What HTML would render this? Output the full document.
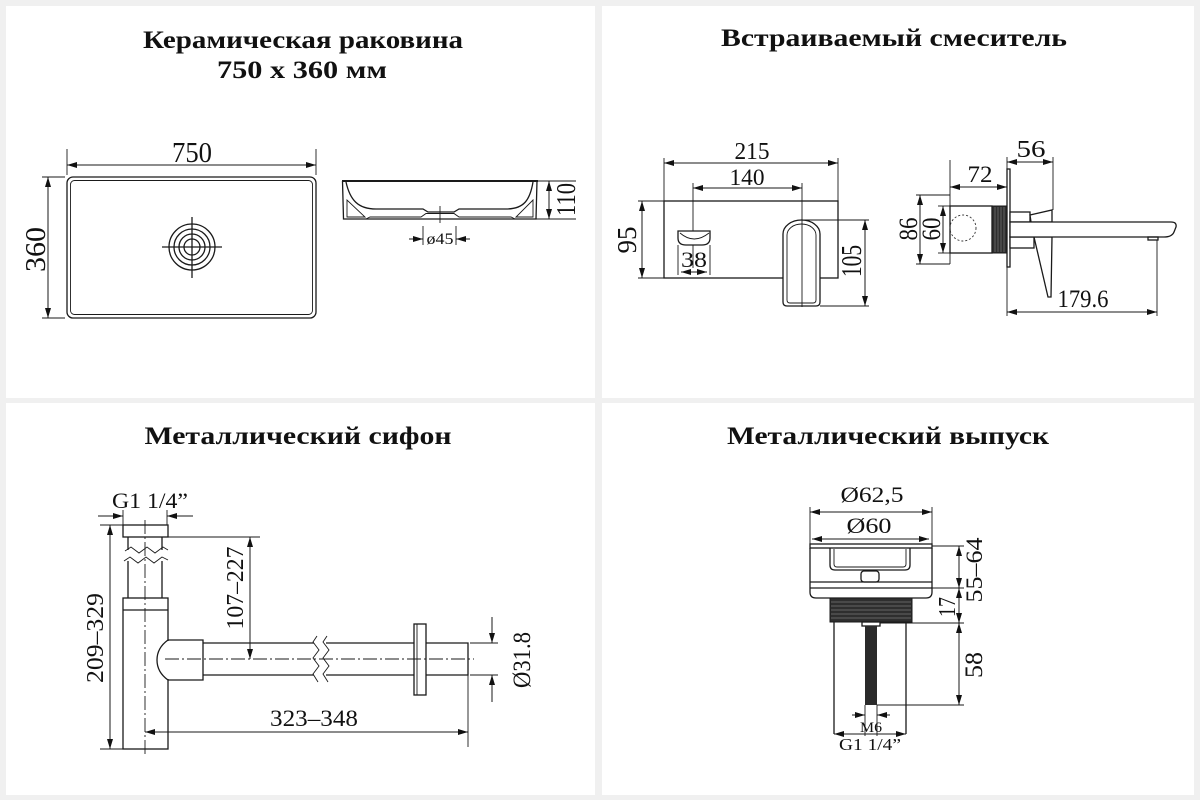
<!DOCTYPE html>
<html><head><meta charset="utf-8"><style>
html,body{margin:0;padding:0;background:#f0f0f0;}
svg{display:block;}
.t{font-family:"Liberation Serif","DejaVu Serif",serif;fill:#111;}
.h{font-family:"Liberation Serif","DejaVu Serif",serif;font-weight:bold;fill:#111;font-size:25px;}
.l{stroke:#1a1a1a;stroke-width:1.3;fill:none;}
.w{stroke:#1a1a1a;stroke-width:1.3;fill:#fff;}
.e{stroke:#1a1a1a;stroke-width:0.9;fill:none;}
.d{stroke:#1a1a1a;stroke-width:1;fill:none;marker-start:url(#ar);marker-end:url(#ar);}
.d1{stroke:#1a1a1a;stroke-width:1;fill:none;marker-end:url(#ar);}
.c{stroke:#1a1a1a;stroke-width:0.9;fill:none;stroke-dasharray:14 3 2 3;}
</style></head><body>
<svg width="1200" height="800" viewBox="0 0 1200 800" xmlns="http://www.w3.org/2000/svg">
<defs>
<marker id="ar" viewBox="0 0 10 6" refX="10" refY="3" markerWidth="10" markerHeight="6" markerUnits="userSpaceOnUse" orient="auto-start-reverse"><path d="M0,0L10,3L0,6z" fill="#111"/></marker>
</defs>
<rect x="0" y="0" width="1200" height="800" fill="#f0f0f0"/>
<rect x="6" y="6" width="589" height="392" fill="#fff"/>
<rect x="602" y="6" width="592" height="392" fill="#fff"/>
<rect x="6" y="403" width="589" height="392" fill="#fff"/>
<rect x="602" y="403" width="592" height="392" fill="#fff"/>

<!-- Titles -->
<text class="h" x="303" y="48" text-anchor="middle" textLength="320" lengthAdjust="spacingAndGlyphs">Керамическая раковина</text>
<text class="h" x="302" y="78" text-anchor="middle" textLength="170" lengthAdjust="spacingAndGlyphs">750 x 360 мм</text>
<text class="h" x="894" y="46" text-anchor="middle" textLength="346" lengthAdjust="spacingAndGlyphs">Встраиваемый смеситель</text>
<text class="h" x="298" y="444" text-anchor="middle" textLength="307" lengthAdjust="spacingAndGlyphs">Металлический сифон</text>
<text class="h" x="888" y="444" text-anchor="middle" textLength="322" lengthAdjust="spacingAndGlyphs">Металлический выпуск</text>

<!-- ===== Panel 1: sink ===== -->
<line class="e" x1="67" y1="149" x2="67" y2="175"/>
<line class="e" x1="316" y1="149" x2="316" y2="175"/>
<line class="d" x1="67" y1="165" x2="316" y2="165"/>
<text class="t" x="192" y="162" font-size="28" text-anchor="middle" textLength="40" lengthAdjust="spacingAndGlyphs">750</text>
<rect class="l" x="67" y="177" width="249" height="141" rx="6" stroke-width="1.6"/>
<rect class="e" x="70.5" y="180.5" width="242" height="134" rx="4"/>
<line class="e" x1="42" y1="177" x2="65" y2="177"/>
<line class="e" x1="42" y1="318" x2="65" y2="318"/>
<line class="d" x1="48" y1="177" x2="48" y2="318"/>
<text class="t" transform="translate(45,249.5) rotate(-90)" font-size="29" text-anchor="middle" textLength="45" lengthAdjust="spacingAndGlyphs">360</text>
<!-- drain -->
<circle class="l" cx="192" cy="247" r="23"/>
<circle class="l" cx="192" cy="247" r="18"/>
<circle class="l" cx="192" cy="247" r="13"/>
<circle class="l" cx="192" cy="247" r="8"/>
<line class="l" x1="162" y1="247" x2="222" y2="247"/>
<line class="l" x1="192" y1="217" x2="192" y2="278"/>
<!-- side view -->
<path class="l" d="M342.5,181 L343.5,219 L536,219 L537,181"/>
<line x1="342" y1="181" x2="538" y2="181" stroke="#1a1a1a" stroke-width="2"/>
<path class="l" d="M346,182 C350,200 358,209 376,209 L423,209 L428,212 L454,212 L459,209 L506,209 C524,209 530,200 533,182"/>
<path class="e" d="M366,219 L370,217 L421,217 L426,213.5 L454,213.5 L459,217 L511,217 L515,219"/>
<path class="e" d="M347,200 L347,217 L365,217 Z"/>
<path class="e" d="M533,200 L533,217 L516,217 Z"/>
<line class="e" x1="440" y1="206" x2="440" y2="223"/>
<line class="e" x1="537" y1="181" x2="576" y2="181"/>
<line class="e" x1="536" y1="219" x2="576" y2="219"/>
<line class="d" x1="549" y1="181" x2="549" y2="219"/>
<text class="t" transform="translate(575,199.5) rotate(-90)" font-size="27" text-anchor="middle" textLength="33" lengthAdjust="spacingAndGlyphs">110</text>
<line class="e" x1="423" y1="226" x2="423" y2="245"/>
<line class="e" x1="456" y1="226" x2="456" y2="245"/>
<line class="d1" x1="409" y1="239" x2="423" y2="239"/>
<line class="d1" x1="470" y1="239" x2="456" y2="239"/>
<text class="t" x="440" y="244" font-size="16" text-anchor="middle" textLength="27" lengthAdjust="spacingAndGlyphs">ø45</text>

<!-- ===== Panel 2: faucet front ===== -->
<line class="e" x1="664" y1="158" x2="664" y2="201"/>
<line class="e" x1="838" y1="158" x2="838" y2="201"/>
<line class="d" x1="664" y1="163" x2="838" y2="163"/>
<text class="t" x="752" y="159" font-size="24" text-anchor="middle" textLength="35" lengthAdjust="spacingAndGlyphs">215</text>
<line class="d" x1="693" y1="188" x2="802" y2="188"/>
<text class="t" x="747" y="185" font-size="23" text-anchor="middle" textLength="35" lengthAdjust="spacingAndGlyphs">140</text>
<rect class="l" x="664" y="201" width="174" height="77"/>
<line class="e" x1="693" y1="183" x2="693" y2="268"/>
<line class="e" x1="638" y1="201" x2="664" y2="201"/>
<line class="e" x1="638" y1="278" x2="664" y2="278"/>
<line class="d" x1="642" y1="201" x2="642" y2="278"/>
<text class="t" transform="translate(636,240) rotate(-90)" font-size="27" text-anchor="middle" textLength="27" lengthAdjust="spacingAndGlyphs">95</text>
<!-- handle -->
<path class="w" d="M678,231 L710,231 L710,238 Q710,245 702,245 L686,245 Q678,245 678,238 Z"/>
<path class="e" d="M680,233 Q694,245 709,233"/>
<text class="t" x="694" y="267" font-size="22" text-anchor="middle" textLength="26" lengthAdjust="spacingAndGlyphs">38</text>
<line class="e" x1="678" y1="245" x2="678" y2="275"/>
<line class="e" x1="710" y1="245" x2="710" y2="275"/>
<line class="d" x1="681" y1="272" x2="707" y2="272"/>
<!-- spout -->
<path class="w" d="M783,234 A18.5,14 0 0 1 820,234 L820,302 Q820,306 816,306 L787,306 Q783,306 783,302 Z"/>
<path class="e" d="M787,235 A14.5,11 0 0 1 816,235 L816,300 Q816,303 813,303 L790,303 Q787,303 787,300 Z"/>
<line class="e" x1="802" y1="183" x2="802" y2="307"/>
<line class="e" x1="802" y1="220" x2="869" y2="220"/>
<line class="e" x1="820" y1="306" x2="869" y2="306"/>
<line class="d" x1="865" y1="220" x2="865" y2="306"/>
<text class="t" transform="translate(861,261) rotate(-90)" font-size="29" text-anchor="middle" textLength="32" lengthAdjust="spacingAndGlyphs">105</text>

<!-- faucet side -->
<line class="e" x1="950" y1="160" x2="950" y2="206"/>
<line class="e" x1="950" y1="253" x2="950" y2="264"/>
<line class="e" x1="1007" y1="157" x2="1007" y2="169"/>
<line class="e" x1="1053" y1="157" x2="1053" y2="210"/>
<line class="d" x1="950" y1="187" x2="1007" y2="187"/>
<text class="t" x="980" y="182" font-size="23" text-anchor="middle" textLength="25" lengthAdjust="spacingAndGlyphs">72</text>
<line class="d" x1="1007" y1="162" x2="1053" y2="162"/>
<text class="t" x="1031" y="157" font-size="24" text-anchor="middle" textLength="29" lengthAdjust="spacingAndGlyphs">56</text>
<rect class="l" x="950" y="206" width="42" height="47"/>
<circle cx="963" cy="228" r="13" fill="none" stroke="#333" stroke-width="0.9" stroke-dasharray="2 2"/>
<rect x="992" y="206" width="15" height="47" fill="#2e2e2e" stroke="#1a1a1a" stroke-width="1"/>
<g stroke="#888" stroke-width="0.6">
<line x1="995" y1="207" x2="995" y2="252"/><line x1="998" y1="207" x2="998" y2="252"/><line x1="1001" y1="207" x2="1001" y2="252"/><line x1="1004" y1="207" x2="1004" y2="252"/>
</g>
<rect class="w" x="1007" y="169" width="3" height="98"/>
<rect class="w" x="1010" y="212" width="20" height="10"/>
<rect class="w" x="1010" y="237" width="24" height="11"/>
<path class="w" d="M1030,215 L1052,210 L1052,222 L1031,222 Z"/>
<path class="w" d="M1034,237 L1052,237 L1051,297 L1048,297 Z"/>
<path class="w" d="M1010,222 L1171,222 Q1177,222 1176,227 L1174,232 Q1172,237 1164,237 L1010,237 Z"/>
<rect class="l" x="1148" y="237" width="10" height="3"/>
<line class="e" x1="916" y1="195" x2="950" y2="195"/>
<line class="e" x1="916" y1="264" x2="950" y2="264"/>
<line class="e" x1="938" y1="206" x2="950" y2="206"/>
<line class="e" x1="938" y1="253" x2="950" y2="253"/>
<line class="d" x1="920" y1="195" x2="920" y2="264"/>
<line class="d" x1="943" y1="206" x2="943" y2="253"/>
<text class="t" transform="translate(917,229) rotate(-90)" font-size="26" text-anchor="middle" textLength="23" lengthAdjust="spacingAndGlyphs">86</text>
<text class="t" transform="translate(940,229) rotate(-90)" font-size="26" text-anchor="middle" textLength="23" lengthAdjust="spacingAndGlyphs">60</text>
<line class="e" x1="1007" y1="267" x2="1007" y2="316"/>
<line class="e" x1="1157" y1="240" x2="1157" y2="316"/>
<line class="d" x1="1007" y1="312" x2="1157" y2="312"/>
<text class="t" x="1083" y="307" font-size="25" text-anchor="middle" textLength="51" lengthAdjust="spacingAndGlyphs">179.6</text>

<!-- ===== Panel 3: siphon ===== -->
<text class="t" x="150" y="508" font-size="22" text-anchor="middle" textLength="76" lengthAdjust="spacingAndGlyphs">G1 1/4”</text>
<line class="e" x1="123" y1="510" x2="123" y2="525"/>
<line class="e" x1="167" y1="510" x2="167" y2="525"/>
<line class="d1" x1="98" y1="516" x2="123" y2="516"/>
<line class="d1" x1="193" y1="516" x2="167" y2="516"/>
<rect class="l" x="123" y="525" width="45" height="12"/>
<line class="l" x1="128" y1="537" x2="128" y2="550"/>
<line class="l" x1="162" y1="537" x2="162" y2="550"/>
<line class="l" x1="128" y1="561" x2="128" y2="598"/>
<line class="l" x1="162" y1="561" x2="162" y2="598"/>
<path class="e" d="M125,551 L131,547 L139,553 L147,547 L155,553 L163,547 L168,550"/>
<path class="e" d="M124,561 L130,557 L138,563 L146,557 L154,563 L162,557 L168,560"/>
<rect class="l" x="123" y="598" width="45" height="151"/>
<line class="l" x1="123" y1="610" x2="168" y2="610"/>
<line x1="168" y1="641" x2="168" y2="679" stroke="#fff" stroke-width="3"/>
<path class="l" d="M168,640 C161,645 157,652 157,660 C157,668 161,675 168,680"/>
<path class="l" d="M168,640 L203,640 L203,680 L168,680"/>
<line class="l" x1="203" y1="643" x2="314" y2="643"/>
<line class="l" x1="203" y1="675" x2="314" y2="675"/>
<line class="l" x1="326" y1="643" x2="414" y2="643"/>
<line class="l" x1="326" y1="675" x2="414" y2="675"/>
<path class="e" d="M317,636 L313,642 L319,650 L313,658 L319,666 L313,674 L318,682"/>
<path class="e" d="M327,636 L323,642 L329,650 L323,658 L329,666 L323,674 L328,682"/>
<rect class="l" x="414" y="624" width="12" height="71"/>
<line class="e" x1="417" y1="624" x2="417" y2="695"/>
<path class="l" d="M426,643 L468,643 L468,675 L426,675"/>
<line class="c" x1="145" y1="520" x2="145" y2="756"/>
<line class="c" x1="165" y1="659" x2="474" y2="659"/>
<line class="e" x1="168" y1="537" x2="260" y2="537"/>
<line class="d" x1="250" y1="537" x2="250" y2="659"/>
<text class="t" transform="translate(243,588) rotate(-90)" font-size="24" text-anchor="middle" textLength="83" lengthAdjust="spacingAndGlyphs">107–227</text>
<line class="e" x1="100" y1="525" x2="123" y2="525"/>
<line class="e" x1="100" y1="749" x2="123" y2="749"/>
<line class="d" x1="110" y1="525" x2="110" y2="749"/>
<text class="t" transform="translate(103,638) rotate(-90)" font-size="24" text-anchor="middle" textLength="90" lengthAdjust="spacingAndGlyphs">209–329</text>
<line class="e" x1="468" y1="675" x2="468" y2="747"/>
<line class="d" x1="145" y1="732" x2="468" y2="732"/>
<text class="t" x="314" y="726" font-size="23" text-anchor="middle" textLength="88" lengthAdjust="spacingAndGlyphs">323–348</text>
<line class="e" x1="470" y1="643" x2="498" y2="643"/>
<line class="e" x1="470" y1="675" x2="498" y2="675"/>
<line class="d1" x1="492" y1="617" x2="492" y2="643"/>
<line class="d1" x1="492" y1="702" x2="492" y2="675"/>
<text class="t" transform="translate(530,660) rotate(-90)" font-size="25" text-anchor="middle" textLength="56" lengthAdjust="spacingAndGlyphs">Ø31.8</text>

<!-- ===== Panel 4: outlet ===== -->
<text class="t" x="872" y="502" font-size="22" text-anchor="middle" textLength="63" lengthAdjust="spacingAndGlyphs">Ø62,5</text>
<line class="e" x1="810" y1="507" x2="810" y2="545"/>
<line class="e" x1="932" y1="507" x2="932" y2="545"/>
<line class="d" x1="810" y1="512" x2="932" y2="512"/>
<text class="t" x="869" y="533" font-size="22" text-anchor="middle" textLength="45" lengthAdjust="spacingAndGlyphs">Ø60</text>
<line class="d" x1="812" y1="539" x2="929" y2="539"/>
<rect class="l" x="810" y="544" width="122" height="4"/>
<path class="l" d="M810,548 L810,592 Q810,598 816,598 L926,598 Q932,598 932,592 L932,548"/>
<line class="l" x1="810" y1="582" x2="932" y2="582"/>
<line class="l" x1="810" y1="588" x2="932" y2="588"/>
<path class="l" d="M830,548 L830,565 Q830,570 835,570 L905,570 Q910,570 910,565 L910,548"/>
<path class="e" d="M834,549 L834,564 Q834,567 837,567 L903,567 Q906,567 906,564 L906,549"/>
<rect class="l" x="861" y="571" width="18" height="11" rx="3"/>
<rect x="830" y="598" width="82" height="24" fill="#2e2e2e" stroke="#1a1a1a" stroke-width="1"/>
<g stroke="#777" stroke-width="0.7">
<line x1="831" y1="602" x2="911" y2="602"/><line x1="831" y1="606" x2="911" y2="606"/><line x1="831" y1="610" x2="911" y2="610"/><line x1="831" y1="614" x2="911" y2="614"/><line x1="831" y1="618" x2="911" y2="618"/>
</g>
<line class="l" x1="834" y1="622" x2="834" y2="734"/>
<line class="l" x1="906" y1="622" x2="906" y2="734"/>
<rect class="l" x="862" y="622" width="18" height="4"/>
<rect x="865" y="626" width="12" height="79" fill="#2a2a2a"/>
<line class="e" x1="865" y1="705" x2="865" y2="736"/>
<line class="e" x1="877" y1="705" x2="877" y2="736"/>
<line class="e" x1="932" y1="546" x2="964" y2="546"/>
<line class="e" x1="932" y1="588" x2="964" y2="588"/>
<line class="e" x1="880" y1="623" x2="964" y2="623"/>
<line class="e" x1="877" y1="705" x2="964" y2="705"/>
<line class="d" x1="959" y1="546" x2="959" y2="588"/>
<line class="d" x1="959" y1="588" x2="959" y2="623"/>
<line class="d" x1="959" y1="623" x2="959" y2="705"/>
<text class="t" transform="translate(982,570) rotate(-90)" font-size="23" text-anchor="middle" textLength="65" lengthAdjust="spacingAndGlyphs">55–64</text>
<text class="t" transform="translate(955,607) rotate(-90)" font-size="24" text-anchor="middle" textLength="20" lengthAdjust="spacingAndGlyphs">17</text>
<text class="t" transform="translate(982,665) rotate(-90)" font-size="25" text-anchor="middle" textLength="26" lengthAdjust="spacingAndGlyphs">58</text>
<line class="d1" x1="852" y1="715" x2="865" y2="715"/>
<line class="d1" x1="890" y1="715" x2="877" y2="715"/>
<text class="t" x="871" y="732" font-size="15" text-anchor="middle" textLength="22" lengthAdjust="spacingAndGlyphs">M6</text>
<line class="d" x1="834" y1="734" x2="906" y2="734"/>
<text class="t" x="870" y="750" font-size="17" text-anchor="middle" textLength="62" lengthAdjust="spacingAndGlyphs">G1 1/4”</text>
</svg>
</body></html>
